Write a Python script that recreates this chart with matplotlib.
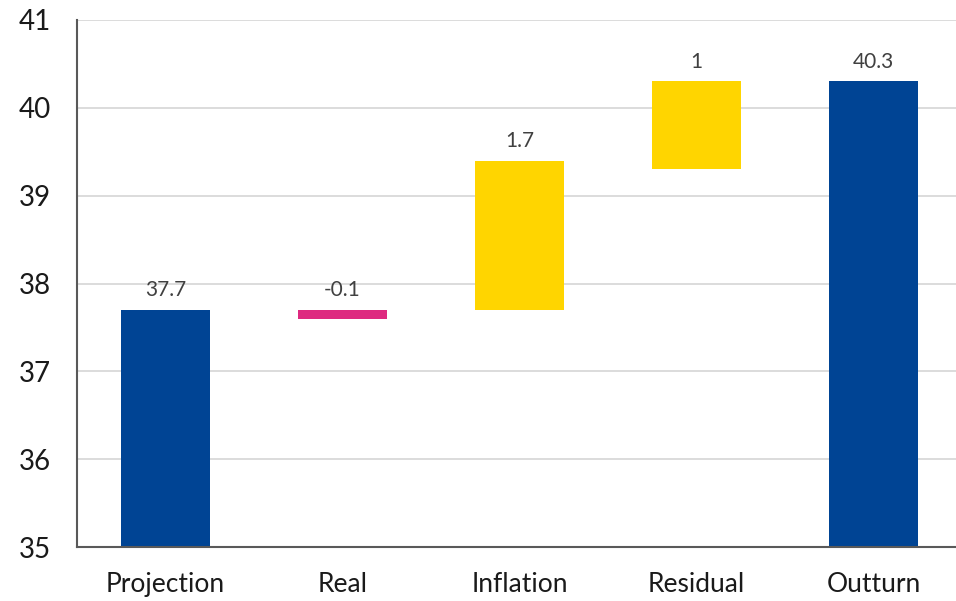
import matplotlib
matplotlib.use("Agg")
import matplotlib.pyplot as plt

categories = ["Projection", "Real", "Inflation", "Residual", "Outturn"]
bar_bottoms = [35.0, 37.6, 37.7, 39.3, 35.0]
bar_tops = [37.7, 37.7, 39.4, 40.3, 40.3]
label_texts = ["37.7", "-0.1", "1.7", "1", "40.3"]
colors = ["#004494", "#DE2A80", "#FFD500", "#FFD500", "#004494"]
y_ticks = [35, 36, 37, 38, 39, 40, 41]

plt.rcParams["font.family"] = ["Lato", "DejaVu Sans"]

fig = plt.figure(figsize=(9.56, 6.01), dpi=100)
ax = fig.add_axes([77 / 956, 1 - 547 / 601, 885 / 956, 527 / 601])

x = list(range(len(categories)))
heights = [t - b for t, b in zip(bar_tops, bar_bottoms)]
ax.bar(x, heights, bottom=bar_bottoms, width=0.5, color=colors, zorder=3)

for xi, top, txt in zip(x, bar_tops, label_texts):
    ax.annotate(txt, (xi, top), xytext=(0, 7), textcoords="offset points",
                ha="center", va="bottom", fontsize=15, color="#404040")

ax.set_xlim(-0.5, 4.5)
ax.set_ylim(35, 41)
ax.set_yticks(y_ticks)
ax.set_xticks(x)
ax.set_xticklabels(categories, fontsize=19, color="#1a1a1a")
ax.tick_params(axis="y", labelsize=20, labelcolor="#1a1a1a", length=0, pad=19)
ax.tick_params(axis="x", length=0, pad=18)
ax.grid(axis="y", color="#D9D9D9", linewidth=1.3, zorder=0)
for side in ("top", "right"):
    ax.spines[side].set_visible(False)
for side in ("left", "bottom"):
    ax.spines[side].set_color("#595959")
    ax.spines[side].set_linewidth(1.5)
    ax.spines[side].set_zorder(4)

fig.savefig("out.png", dpi=100)
